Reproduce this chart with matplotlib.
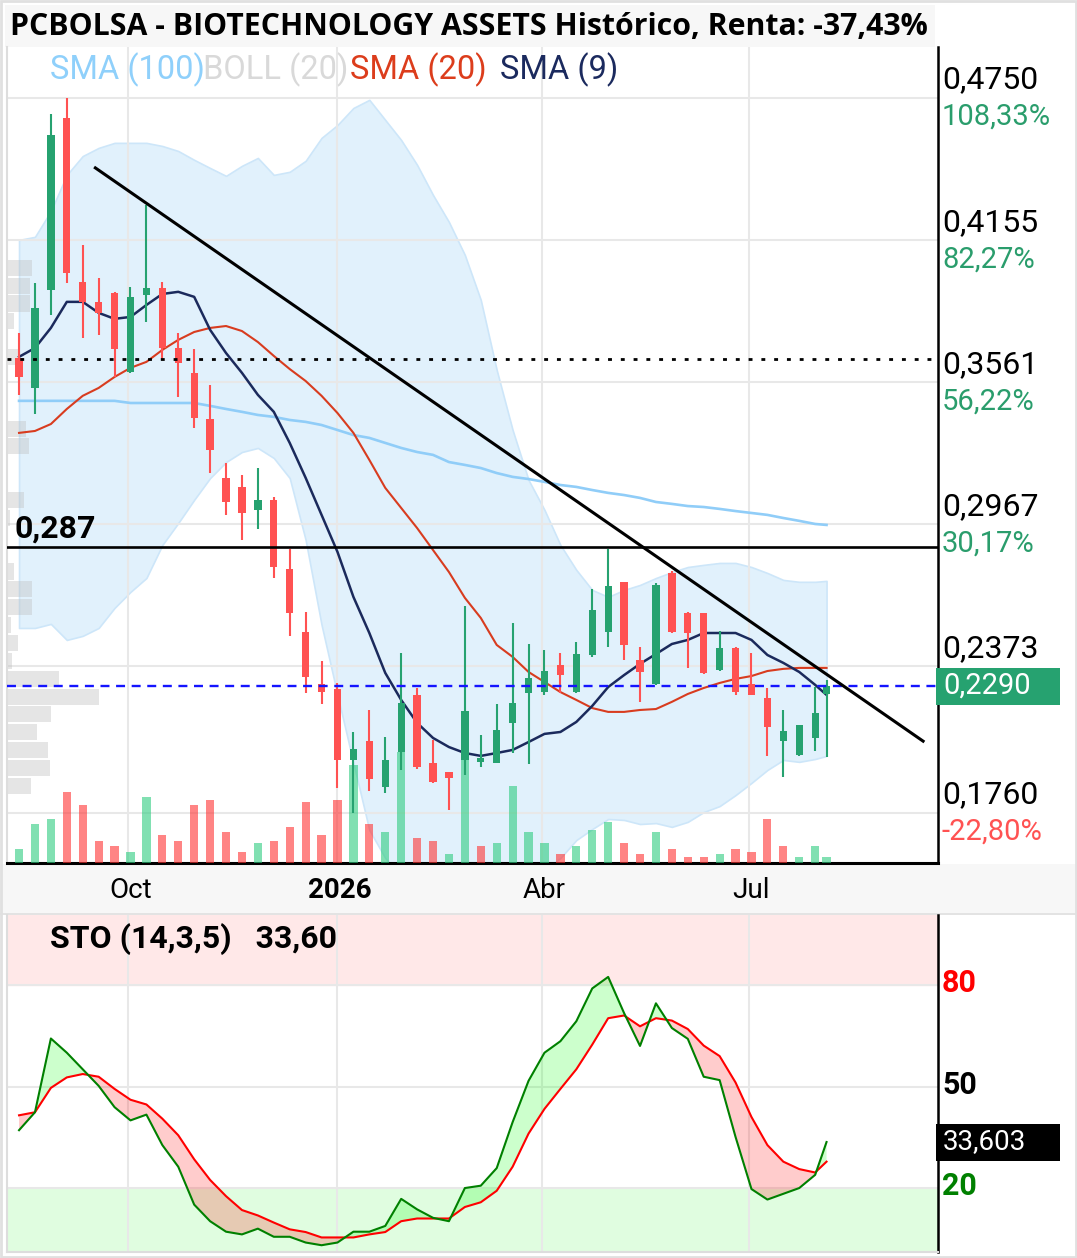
import matplotlib

matplotlib.use("Agg")

import matplotlib.dates as mdates
import matplotlib.pyplot as plt
import numpy as np
import pandas as pd
from matplotlib.patches import Rectangle

W, H = 1077, 1258

# weekly candles (Thursday) + last, unfinished week
dates = list(pd.date_range("2025-08-14", periods=51, freq="7D")) + [pd.Timestamp("2026-08-04")]

opens = [0.3663, 0.3537, 0.3947, 0.4666, 0.3980, 0.3897, 0.3934, 0.3604, 0.3926, 0.3955,
         0.3704, 0.3600, 0.3407, 0.3160, 0.3123, 0.3027, 0.3069, 0.2780, 0.2516, 0.2299,
         0.2278, 0.1981, 0.2060, 0.1868, 0.2014, 0.2253, 0.1968, 0.1931, 0.1981, 0.1971,
         0.1968, 0.2136, 0.2261, 0.2265, 0.2378, 0.2265, 0.2420, 0.2516, 0.2726, 0.2399,
         0.2299, 0.2763, 0.2596, 0.2596, 0.2357, 0.2449, 0.2299, 0.2240, 0.2060, 0.2002,
         0.2073, 0.2255]
highs = [0.3767, 0.3976, 0.4683, 0.4750, 0.4135, 0.3997, 0.3940, 0.3960, 0.4302, 0.3980,
         0.3767, 0.3700, 0.3550, 0.3223, 0.3173, 0.3202, 0.3081, 0.2864, 0.2600, 0.2395,
         0.2303, 0.2098, 0.2190, 0.2077, 0.2429, 0.2282, 0.2065, 0.1931, 0.2625, 0.2084,
         0.2215, 0.2554, 0.2466, 0.2441, 0.2428, 0.2474, 0.2696, 0.2864, 0.2726, 0.2454,
         0.2721, 0.2771, 0.2600, 0.2596, 0.2521, 0.2454, 0.2428, 0.2282, 0.2190, 0.2127,
         0.2286, 0.2315]
lows = [0.3508, 0.3428, 0.3842, 0.3976, 0.3746, 0.3759, 0.3583, 0.3600, 0.3813, 0.3654,
        0.3499, 0.3370, 0.3181, 0.3006, 0.2901, 0.2947, 0.2742, 0.2500, 0.2261, 0.2215,
        0.1864, 0.1759, 0.1851, 0.1843, 0.1939, 0.1943, 0.1885, 0.1772, 0.1918, 0.1952,
        0.1968, 0.2010, 0.1962, 0.2253, 0.2261, 0.2261, 0.2412, 0.2454, 0.2399, 0.2224,
        0.2295, 0.2512, 0.2366, 0.2341, 0.2353, 0.2253, 0.2253, 0.1998, 0.1910, 0.1998,
        0.2019, 0.1994]
closes = [0.3583, 0.3872, 0.4595, 0.4018, 0.3897, 0.3851, 0.3700, 0.3918, 0.3955, 0.3704,
          0.3642, 0.3412, 0.3278, 0.3060, 0.3014, 0.3069, 0.2788, 0.2596, 0.2328, 0.2265,
          0.1981, 0.2027, 0.1901, 0.1981, 0.2219, 0.1952, 0.1889, 0.1906, 0.2186, 0.1988,
          0.2106, 0.2219, 0.2324, 0.2353, 0.2336, 0.2424, 0.2608, 0.2709, 0.2462, 0.2349,
          0.2713, 0.2516, 0.2512, 0.2345, 0.2449, 0.2265, 0.2253, 0.2119, 0.2102, 0.2127,
          0.2178, 0.2290]
volumes = [14, 39, 44, 71, 58, 22, 17, 11, 66, 28, 22, 58, 63, 31, 11, 20, 22, 36, 61, 28,
           63, 98, 39, 31, 111, 25, 22, 9, 105, 17, 20, 77, 31, 20, 9, 17, 33, 41, 20, 9,
           31, 14, 6, 6, 9, 14, 11, 44, 17, 6, 17, 6]

sma9 = [0.3667, 0.3704, 0.3788, 0.3897, 0.3897, 0.3851, 0.3826, 0.3834, 0.3884, 0.3930,
        0.3939, 0.3918, 0.3780, 0.3683, 0.3600, 0.3508, 0.3437, 0.3307, 0.3161, 0.3006,
        0.2851, 0.2663, 0.2512, 0.2345, 0.2232, 0.2136, 0.2073, 0.2035, 0.2010, 0.1998,
        0.2010, 0.2023, 0.2056, 0.2090, 0.2098, 0.2140, 0.2207, 0.2286, 0.2336, 0.2383,
        0.2424, 0.2466, 0.2483, 0.2512, 0.2512, 0.2512, 0.2483, 0.2420, 0.2387, 0.2349,
        0.2295, 0.2253]
sma20 = [0.3349, 0.3357, 0.3386, 0.3449, 0.3504, 0.3537, 0.3583, 0.3621, 0.3646, 0.3696,
         0.3738, 0.3771, 0.3788, 0.3796, 0.3775, 0.3729, 0.3671, 0.3616, 0.3566, 0.3504,
         0.3432, 0.3349, 0.3236, 0.3119, 0.3035, 0.2951, 0.2859, 0.2767, 0.2659, 0.2575,
         0.2462, 0.2412, 0.2349, 0.2307, 0.2265, 0.2232, 0.2198, 0.2182, 0.2182, 0.2190,
         0.2194, 0.2224, 0.2257, 0.2282, 0.2303, 0.2320, 0.2332, 0.2353, 0.2362, 0.2366,
         0.2366, 0.2366]
sma100 = [0.3483, 0.3483, 0.3483, 0.3483, 0.3483, 0.3483, 0.3483, 0.3474, 0.3474, 0.3474,
          0.3474, 0.3474, 0.3462, 0.3449, 0.3437, 0.3424, 0.3416, 0.3403, 0.3395, 0.3382,
          0.3361, 0.3340, 0.3328, 0.3307, 0.3286, 0.3269, 0.3257, 0.3227, 0.3215, 0.3202,
          0.3181, 0.3165, 0.3156, 0.3144, 0.3131, 0.3123, 0.3110, 0.3098, 0.3089, 0.3077,
          0.3060, 0.3052, 0.3043, 0.3039, 0.3031, 0.3022, 0.3014, 0.3006, 0.2993, 0.2981,
          0.2968, 0.2964]
boll_up = [0.4156, 0.4169, 0.4277, 0.4428, 0.4507, 0.4541, 0.4562, 0.4562, 0.4562, 0.4549,
           0.4528, 0.4491, 0.4457, 0.4424, 0.4466, 0.4499, 0.4428, 0.4441, 0.4487, 0.4583,
           0.4637, 0.4708, 0.4742, 0.4658, 0.4574, 0.4470, 0.4344, 0.4231, 0.4093, 0.3905,
           0.3612, 0.3361, 0.3152, 0.3027, 0.2880, 0.2776, 0.2692, 0.2663, 0.2692, 0.2713,
           0.2742, 0.2767, 0.2788, 0.2797, 0.2805, 0.2805, 0.2788, 0.2763, 0.2734, 0.2726,
           0.2726, 0.2730]
boll_dn = [0.2533, 0.2533, 0.2550, 0.2483, 0.2500, 0.2533, 0.2617, 0.2684, 0.2742, 0.2880,
           0.2972, 0.3069, 0.3160, 0.3227, 0.3269, 0.3286, 0.3244, 0.3160, 0.2901, 0.2546,
           0.2253, 0.1968, 0.1688, 0.1571, 0.1496, 0.1433, 0.1374, 0.1303, 0.1224, 0.1245,
           0.1333, 0.1420, 0.1483, 0.1521, 0.1571, 0.1646, 0.1692, 0.1734, 0.1730, 0.1713,
           0.1717, 0.1701, 0.1722, 0.1763, 0.1788, 0.1834, 0.1885, 0.1939, 0.1981, 0.1973,
           0.1985, 0.1998]

sto_k = [37.1, 42.4, 64.2, 60.0, 55.1, 50.2, 43.9, 40.0, 41.7, 32.7, 26.3, 15.1, 10.2, 7.1,
         6.3, 8.0, 5.6, 5.6, 3.9, 3.1, 3.9, 7.1, 7.1, 8.8, 16.8, 13.7, 11.2, 10.2, 20.0, 20.7,
         25.9, 39.5, 51.7, 60.0, 63.4, 69.3, 79.0, 82.4, 71.7, 62.0, 74.6, 67.3, 64.1, 52.9,
         51.9, 35.1, 19.7, 16.6, 18.3, 20.0, 23.9, 33.603]
sto_d = [41.5, 42.4, 49.6, 52.7, 53.7, 52.9, 49.3, 46.1, 44.7, 40.5, 35.6, 28.5, 22.4, 17.6,
         13.5, 11.9, 9.8, 7.8, 7.0, 5.4, 5.4, 5.4, 6.3, 7.0, 10.2, 11.0, 11.0, 11.0, 14.4, 15.8,
         19.2, 26.3, 36.1, 43.4, 49.3, 55.1, 62.4, 70.2, 71.0, 67.8, 70.2, 69.5, 67.0, 62.1,
         59.0, 51.2, 41.0, 32.7, 27.8, 25.6, 24.6, 27.8]

# volume-at-price profile, 30 bins from 0.4077 down to 0.1835
profile_top, profile_bottom = 0.4077, 0.1835
profile = [25, 23, 23, 7, 0, 11, 0, 0, 0, 19, 22, 0, 0, 17, 3, 0, 0, 7, 25, 25,
           4, 11, 5, 52, 92, 44, 30, 41, 43, 24]

price_ticks = [0.4750, 0.4155, 0.3561, 0.2967, 0.2373, 0.1760]
price_labels = ["0,4750", "0,4155", "0,3561", "0,2967", "0,2373", "0,1760"]
pct_labels = ["108,33%", "82,27%", "56,22%", "30,17%", "", "-22,80%"]
month_ticks = pd.to_datetime(["2025-10-01", "2026-01-01", "2026-04-01", "2026-07-01"])
month_labels = ["Oct", "2026", "Abr", "Jul"]

support = 0.287
start_price = 0.366
last_price = 0.2290
trend_dates = pd.to_datetime(["2025-09-16", "2026-09-16"])
trend_prices = [0.4461, 0.2056]

UP, DOWN = "#26a270", "#ff5252"
FONT = "Roboto"


def fx(px):
    return px / W


def fy(py):
    return 1 - py / H


x = mdates.date2num(dates)
o, h, l, c = map(np.array, (opens, highs, lows, closes))
up = c >= o

fig = plt.figure(figsize=(W / 100, H / 100), dpi=100)
fig.patch.set_facecolor("white")

# background strips
fig.add_artist(Rectangle((fx(5), fy(47)), fx(930), 42 / H, transform=fig.transFigure,
                         facecolor="#f7f7f7", edgecolor="none", zorder=0))
fig.add_artist(Rectangle((0, fy(913)), 1, 49 / H, transform=fig.transFigure,
                         facecolor="#f7f7f7", edgecolor="none", zorder=0))
fig.add_artist(Rectangle((0, fy(915)), 1, 2.5 / H, transform=fig.transFigure,
                         facecolor="#e3e3e3", edgecolor="none", zorder=0))

ax = fig.add_axes([fx(7), fy(863), (938 - 7) / W, (863 - 47) / H])
sto = fig.add_axes([fx(7), fy(1252), (938 - 7) / W, (1252 - 915) / H])
for a in (ax, sto):
    a.patch.set_alpha(0)

xmin = mdates.date2num(pd.Timestamp("2025-08-08 17:00"))
xmax = mdates.date2num(pd.Timestamp("2026-09-22"))
ax.set_xlim(xmin, xmax)
ax.set_ylim(0.1550, 0.4963)

# grid
ax.set_xticks(mdates.date2num(month_ticks))
ax.set_yticks(price_ticks)
ax.grid(True, color="#e8e8e8", linewidth=1.5, zorder=0)
ax.tick_params(length=0, labelleft=False, labelbottom=False)
ax.spines["top"].set_visible(False)
ax.spines["left"].set_color("#dddddd")
ax.spines["left"].set_linewidth(1.5)
ax.spines["right"].set_color("black")
ax.spines["right"].set_linewidth(1.8)
ax.spines["bottom"].set_color("black")
ax.spines["bottom"].set_linewidth(2.2)

# bollinger band and moving averages
ax.fill_between(x, boll_dn, boll_up, facecolor="#e1f1fc", edgecolor="#cde6f9", linewidth=1.2, zorder=1)
ax.plot(x, sma100, color="#90cdf8", linewidth=1.9, zorder=4)
ax.plot(x, sma20, color="#d83c1f", linewidth=1.5, zorder=5)
ax.plot(x, sma9, color="#1b2a5c", linewidth=1.8, zorder=6)

# volume profile on the left
edges = np.linspace(profile_top, profile_bottom, len(profile) + 1)
centers = 0.5 * (edges[:-1] + edges[1:])
bin_h = abs(edges[1] - edges[0])
prof = np.array(profile, dtype=float)
ax.barh(centers, prof / prof.max() * 0.0988, height=bin_h * 0.9, left=0,
        color="#bdbdbd", alpha=0.38, transform=ax.get_yaxis_transform(), zorder=2)

# volume bars at the bottom
vol = np.array(volumes, dtype=float)
vol_up = np.r_[True, c[1:] >= c[:-1]]
ax.bar(x, vol / (vol.max() * 7.35), width=3.6, bottom=0,
       color=np.where(vol_up, "#2ecc80", "#ff3333"), alpha=0.6,
       transform=ax.get_xaxis_transform(), zorder=3)

# candles
ax.vlines(x, l, h, colors=np.where(up, UP, DOWN), linewidth=1.5, zorder=7)
ax.bar(x, np.maximum(np.abs(c - o), 0.0008), bottom=np.minimum(o, c), width=3.2,
       color=np.where(up, UP, DOWN), zorder=8)

# reference lines
ax.axhline(start_price, color="black", linewidth=2.0, linestyle=(0, (1.4, 3.2)), zorder=9)
ax.axhline(support, color="black", linewidth=1.9, zorder=9)
ax.axhline(last_price, color="#1414ff", linewidth=1.7, linestyle=(0, (3.8, 2.8)), zorder=9)
ax.plot(mdates.date2num(trend_dates), trend_prices, color="black", linewidth=2.2, zorder=10,
        solid_capstyle="butt")
ax.annotate("0,287", xy=(0, support), xycoords=("axes fraction", "data"), xytext=(7, 19),
            textcoords="offset pixels", va="center", ha="left", fontsize=23, family=FONT,
            fontweight="bold", color="black")

# right axis labels
for val, lab, pct in zip(price_ticks, price_labels, pct_labels):
    ax.annotate(lab, xy=(1, val), xycoords=("axes fraction", "data"), xytext=(4, 18),
                textcoords="offset pixels", va="center", ha="left", fontsize=23, family=FONT,
                color="black", annotation_clip=False)
    if pct:
        ax.annotate(pct, xy=(1, val), xycoords=("axes fraction", "data"), xytext=(4, -19),
                    textcoords="offset pixels", va="center", ha="left", fontsize=21, family=FONT,
                    color=DOWN if pct.startswith("-") else "#2a9d6c", annotation_clip=False)

# x labels
for d, lab in zip(mdates.date2num(month_ticks), month_labels):
    ax.annotate(lab, xy=(d, 0), xycoords=("data", "axes fraction"), xytext=(2, -27),
                textcoords="offset pixels", va="center", ha="center", fontsize=20, family=FONT,
                fontweight="bold" if lab.isdigit() else "normal", color="black",
                annotation_clip=False)

# current price box
fig.canvas.draw()
yp = ax.transData.transform((x[-1], last_price))[1] / fig.bbox.height
fig.add_artist(Rectangle((fx(936), yp - 18.5 / H), 124 / W, 37 / H, transform=fig.transFigure,
                         facecolor="#26a270", edgecolor="none", zorder=20))
fig.text(fx(943), yp, "0,2290", color="white", fontsize=21, family=FONT, va="center",
         ha="left", zorder=21)

# title and legend
fig.text(fx(10), fy(27), "PCBOLSA - BIOTECHNOLOGY ASSETS Histórico, Renta: -37,43%",
         fontsize=21.8, family="Open Sans", fontweight="bold", va="center", ha="left")
for px, txt, col in [(50, "SMA (100)", "#8fd0fb"), (203, "BOLL (20)", "#d9d9d9"),
                     (350, "SMA (20)", "#dc3d1c"), (500, "SMA (9)", "#1b2a5e")]:
    fig.text(fx(px), fy(70), txt, fontsize=23.5, family=FONT, color=col, va="center", ha="left")

# stochastic panel
sto.set_xlim(xmin, xmax)
sto.set_ylim(1.1, 100.7)
sto.axhspan(80, 100.7, color="#ffe8e8", zorder=0)
sto.axhspan(1.1, 20, color="#e0fde0", zorder=0)
sto.set_xticks(mdates.date2num(month_ticks))
sto.set_yticks([20, 50, 80])
sto.grid(True, color="#e8e8e8", linewidth=1.5, zorder=1)
sto.tick_params(length=0, labelleft=False, labelbottom=False)
sto.spines["top"].set_visible(False)
sto.spines["left"].set_color("#dddddd")
sto.spines["left"].set_linewidth(1.5)
sto.spines["bottom"].set_color("#dddddd")
sto.spines["bottom"].set_linewidth(1.5)
sto.spines["right"].set_color("black")
sto.spines["right"].set_linewidth(1.8)

k = np.array(sto_k)
d = np.array(sto_d)
sto.fill_between(x, k, d, where=k >= d, interpolate=True, color="#00ff00", alpha=0.2,
                 linewidth=0, zorder=2)
sto.fill_between(x, k, d, where=k < d, interpolate=True, color="#ff0000", alpha=0.2,
                 linewidth=0, zorder=2)
sto.plot(x, d, color="#ff0000", linewidth=1.5, zorder=3)
sto.plot(x, k, color="#008000", linewidth=1.5, zorder=4)

for val, col in [(80, "#ff0000"), (50, "black"), (20, "#008000")]:
    sto.annotate(str(val), xy=(1, val), xycoords=("axes fraction", "data"), xytext=(4, 2),
                 textcoords="offset pixels", va="center", ha="left", fontsize=22, family=FONT,
                 fontweight="bold", color=col, annotation_clip=False)
sto.text(0.046, 0.93, "STO (14,3,5)   33,60", transform=sto.transAxes, fontsize=23, family=FONT,
         fontweight="bold", va="center", ha="left")

fig.canvas.draw()
ys = sto.transData.transform((x[-1], sto_k[-1]))[1] / fig.bbox.height
fig.add_artist(Rectangle((fx(936), ys - 18.5 / H), 124 / W, 37 / H, transform=fig.transFigure,
                         facecolor="black", edgecolor="none", zorder=20))
fig.text(fx(943), ys, "33,603", color="white", fontsize=20, family=FONT, va="center",
         ha="left", zorder=21)

# outer frame
fig.add_artist(Rectangle((0.001, 0.001), 0.998, 0.998, transform=fig.transFigure,
                         facecolor="none", edgecolor="#e0e0e0", linewidth=2, zorder=30))

fig.savefig("out.png", dpi=100)
